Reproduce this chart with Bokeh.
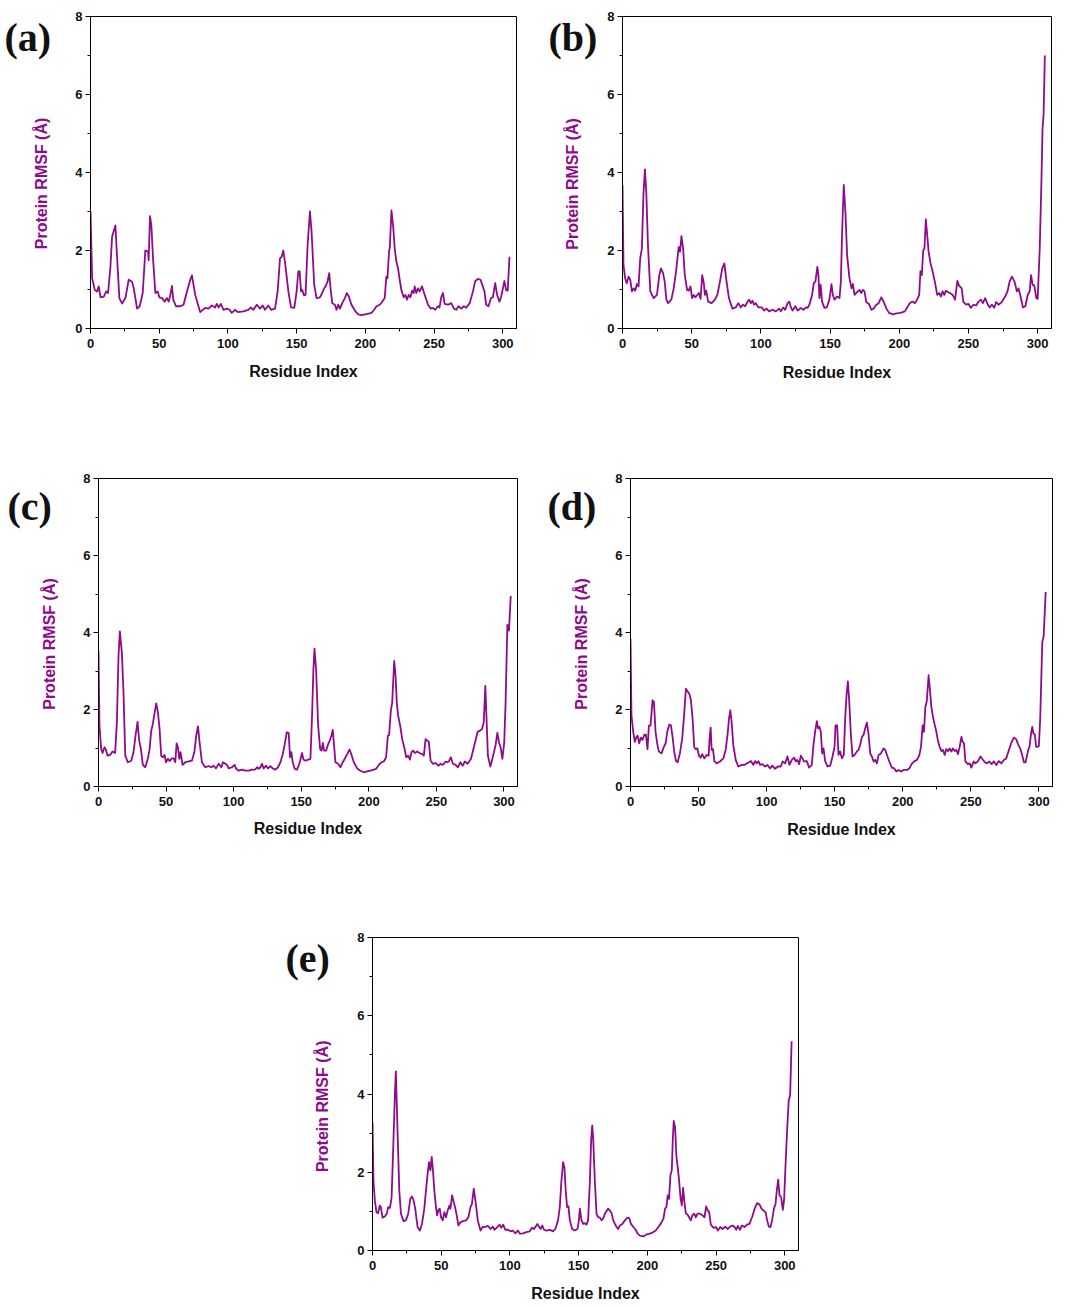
import math
from bokeh.plotting import figure
from bokeh.models import FixedTicker, Label, Range1d, Spacer
from bokeh.layouts import column, row
from bokeh.embed import file_html
from bokeh.resources import INLINE

# ---------------- data ----------------
x_ticks = [0, 50, 100, 150, 200, 250, 300]
x_minor = [25, 75, 125, 175, 225, 275]
y_ticks = [0, 2, 4, 6, 8]
y_minor = [1, 3, 5, 7]
panel_tags = ["(a)", "(b)", "(c)", "(d)", "(e)"]
x_title = "Residue Index"
y_title = "Protein RMSF (Å)"

res_a = [0, 1.2, 3.1, 4.8, 6.0, 7.3, 9.7, 11.4, 12.8, 14.5,
         15.7, 18.1, 19.4, 21.0, 23.0, 25.4, 27.8, 30.2, 31.5, 33.9,
         35.8, 38.0, 39.9, 41.9, 42.3, 43.3, 44.3, 45.5, 47.2, 48.9,
         50.1, 52.0, 54.0, 55.6, 56.9, 58.1, 59.3, 60.2, 62.2, 65.3,
         67.7, 70.2, 72.6, 73.8, 76.2, 79.8, 83.5, 85.9, 88.3, 90.7,
         91.9, 93.2, 94.8, 96.8, 99.2, 101.1, 102.8, 105.2, 107.2, 111.3,
         114.9, 116.6, 118.6, 121.0, 123.4, 125.3, 127.0, 129.4, 131.4, 134.3,
         136.2, 137.9, 139.1, 140.3, 141.5, 144.0, 145.9, 148.3, 150.0, 151.2,
         152.2, 153.2, 154.1, 155.3, 156.5, 158.0, 159.7, 160.9, 162.8, 164.5,
         167.0, 168.6, 170.1, 171.1, 172.5, 173.7, 174.7, 175.9, 177.8, 179.0,
         180.3, 181.5, 183.2, 185.1, 186.5, 188.0, 189.9, 192.4, 194.8, 197.2,
         200.8, 204.5, 206.4, 208.1, 210.5, 212.4, 214.1, 215.3, 216.1, 217.3,
         217.8, 219.0, 220.2, 221.4, 222.6, 223.8, 225.0, 226.2, 227.9, 229.1,
         230.3, 231.5, 232.8, 234.0, 235.2, 235.9, 237.1, 238.3, 239.5, 241.2,
         242.4, 243.6, 245.6, 247.5, 249.2, 250.9, 252.8, 254.0, 255.2, 256.5,
         257.7, 260.1, 262.5, 264.5, 266.2, 267.8, 269.8, 271.7, 273.4, 275.9,
         278.3, 280.0, 281.9, 283.8, 285.5, 286.7, 287.9, 289.6, 291.5, 292.8,
         294.5, 295.9, 297.6, 298.8, 301.2, 302.4, 303.6, 304.9]
rmsf_a = [3.0, 1.29, 0.99, 0.95, 1.08, 0.8, 0.82, 0.95, 0.91, 1.58,
          2.35, 2.64, 1.8, 0.78, 0.64, 0.78, 1.25, 1.2, 1.03, 0.51,
          0.57, 0.91, 2.0, 1.97, 1.75, 2.88, 2.64, 1.8, 0.91, 0.95,
          0.8, 0.78, 0.69, 0.78, 0.69, 0.86, 1.09, 0.74, 0.57, 0.57,
          0.61, 0.95, 1.25, 1.36, 0.86, 0.42, 0.53, 0.51, 0.59, 0.54,
          0.63, 0.54, 0.63, 0.48, 0.51, 0.48, 0.4, 0.48, 0.42, 0.44,
          0.48, 0.54, 0.48, 0.61, 0.51, 0.59, 0.48, 0.59, 0.48, 0.51,
          0.95, 1.8, 1.84, 2.0, 1.71, 0.95, 0.54, 0.53, 0.95, 1.46,
          1.47, 0.95, 0.99, 0.85, 0.86, 2.14, 3.0, 2.47, 1.12, 0.78,
          0.8, 0.91, 1.03, 1.08, 1.2, 1.42, 1.03, 0.65, 0.61, 0.48,
          0.61, 0.51, 0.65, 0.78, 0.91, 0.82, 0.61, 0.46, 0.36, 0.34,
          0.37, 0.4, 0.48, 0.57, 0.61, 0.69, 0.78, 1.33, 1.29, 2.0,
          2.07, 3.03, 2.64, 2.05, 1.71, 1.54, 1.25, 0.99, 0.8, 0.86,
          0.74, 0.86, 0.8, 0.97, 0.91, 1.08, 0.91, 1.03, 0.95, 1.08,
          0.95, 0.82, 0.61, 0.51, 0.53, 0.48, 0.57, 0.54, 0.8, 0.91,
          0.63, 0.61, 0.65, 0.51, 0.48, 0.57, 0.51, 0.57, 0.53, 0.65,
          0.95, 1.22, 1.27, 1.25, 1.08, 0.95, 0.61, 0.57, 0.78, 0.8,
          1.16, 0.86, 0.69, 0.8, 1.22, 0.99, 0.97, 1.84]

res_b = [0, 0.7, 1.9, 3.1, 4.4, 5.6, 6.8, 8.0, 9.2, 10.4,
         11.6, 12.8, 14.0, 15.2, 16.2, 17.2, 18.4, 20.1, 22.5, 24.9,
         26.6, 27.8, 29.3, 30.5, 31.7, 32.9, 35.3, 37.0, 38.7, 40.6,
         41.6, 42.6, 43.8, 45.0, 46.7, 47.9, 49.1, 50.3, 51.5, 52.7,
         54.0, 55.2, 56.4, 57.6, 58.8, 59.5, 60.5, 61.9, 64.4, 66.8,
         68.5, 70.2, 72.1, 73.6, 75.2, 76.9, 79.4, 81.8, 83.7, 85.4,
         87.1, 88.6, 90.2, 91.5, 92.7, 93.9, 95.1, 96.3, 98.2, 100.7,
         102.3, 104.0, 106.0, 108.4, 110.8, 113.2, 114.4, 116.1, 117.6, 119.3,
         120.5, 121.7, 122.9, 124.9, 126.6, 129.0, 130.7, 132.6, 133.8, 135.0,
         137.0, 138.2, 139.4, 140.8, 141.6, 142.3, 143.2, 144.2, 145.9, 147.6,
         149.5, 151.0, 152.0, 153.2, 154.9, 156.8, 157.8, 158.7, 159.9, 161.1,
         162.3, 164.0, 165.5, 166.5, 167.7, 168.9, 170.1, 171.3, 172.5, 173.7,
         174.9, 176.1, 178.1, 179.8, 181.5, 183.4, 185.1, 187.0, 188.7, 190.7,
         192.6, 195.5, 198.0, 200.9, 204.0, 205.7, 207.6, 209.5, 211.2, 212.9,
         214.4, 215.3, 216.3, 217.3, 218.2, 219.2, 220.2, 221.2, 222.6, 224.1,
         225.7, 227.4, 228.9, 230.1, 231.3, 232.5, 233.7, 235.4, 236.6, 238.6,
         240.3, 242.0, 243.2, 245.1, 246.3, 248.3, 250.0, 251.7, 253.6, 255.5,
         257.3, 259.0, 260.4, 262.1, 263.8, 265.3, 267.0, 268.6, 270.0, 271.7,
         274.1, 276.5, 278.2, 279.7, 281.4, 283.3, 285.0, 286.2, 287.4, 289.4,
         291.1, 292.8, 294.2, 295.2, 296.4, 297.6, 299.0, 300.0, 301.5, 302.7,
         303.5, 304.3, 305.2]
rmsf_b = [3.68, 1.63, 1.29, 1.16, 1.33, 1.25, 0.95, 1.03, 0.97, 1.14,
          1.08, 1.8, 2.05, 3.49, 4.08, 3.49, 2.14, 0.95, 0.78, 0.86,
          1.37, 1.54, 1.42, 1.2, 0.74, 0.65, 0.74, 1.03, 1.46, 2.09,
          1.97, 2.37, 2.05, 1.37, 0.99, 0.97, 1.08, 0.78, 0.86, 0.8,
          0.86, 0.91, 0.76, 1.37, 1.16, 0.86, 0.97, 0.69, 0.65, 0.74,
          0.86, 1.16, 1.54, 1.67, 1.2, 0.78, 0.51, 0.54, 0.65, 0.54,
          0.61, 0.57, 0.68, 0.74, 0.65, 0.71, 0.61, 0.65, 0.54, 0.54,
          0.46, 0.51, 0.44, 0.48, 0.44, 0.51, 0.44, 0.54, 0.48, 0.65,
          0.69, 0.54, 0.46, 0.57, 0.46, 0.53, 0.48, 0.54, 0.53, 0.61,
          0.86, 1.16, 1.2, 1.58, 1.37, 0.78, 1.12, 0.69, 0.53, 0.54,
          0.74, 1.14, 0.86, 0.74, 0.82, 0.78, 1.2, 2.47, 3.68, 2.98,
          1.88, 1.29, 1.03, 1.14, 0.86, 0.91, 0.95, 0.99, 0.91, 0.99,
          0.95, 0.68, 0.63, 0.48, 0.51, 0.61, 0.65, 0.8, 0.69, 0.51,
          0.4, 0.36, 0.39, 0.4, 0.44, 0.54, 0.65, 0.69, 0.65, 0.74,
          0.86, 1.47, 1.37, 2.0, 2.05, 2.8, 2.39, 1.97, 1.67, 1.46,
          1.2, 0.86, 0.91, 0.82, 0.95, 0.86, 0.97, 0.93, 0.91, 0.86,
          0.74, 1.22, 1.1, 1.03, 0.68, 0.61, 0.63, 0.53, 0.61, 0.59,
          0.69, 0.74, 0.65, 0.78, 0.63, 0.54, 0.61, 0.53, 0.68, 0.61,
          0.68, 0.82, 0.95, 1.2, 1.33, 1.2, 0.95, 1.03, 0.86, 0.54,
          0.57, 0.86, 0.95, 1.37, 1.12, 1.1, 0.78, 0.76, 2.05, 3.75,
          5.1, 5.5, 7.0]

res_c = [0, 0.7, 2.0, 3.0, 4.4, 5.4, 6.7, 8.6, 10.4, 12.3,
         13.6, 14.8, 15.8, 17.3, 18.5, 19.8, 21.7, 24.2, 25.9, 27.4,
         28.9, 30.1, 31.4, 32.8, 34.6, 36.5, 37.8, 39.0, 40.2, 41.2,
         42.7, 44.0, 45.2, 46.4, 47.7, 48.9, 49.9, 51.4, 52.6, 54.3,
         55.6, 56.8, 57.8, 58.8, 59.8, 60.7, 62.2, 64.2, 66.7, 69.1,
         70.9, 72.3, 73.6, 74.8, 76.5, 79.0, 81.5, 83.5, 85.2, 86.9,
         88.9, 90.9, 92.1, 93.8, 95.1, 96.3, 98.8, 100.7, 101.9, 103.7,
         106.2, 108.6, 111.1, 113.6, 116.0, 117.3, 118.5, 119.8, 121.0, 122.2,
         124.0, 125.4, 127.2, 128.9, 130.9, 132.8, 134.6, 136.3, 137.8, 139.3,
         140.7, 141.7, 142.7, 143.7, 145.2, 146.9, 148.6, 150.6, 151.6, 153.1,
         155.1, 156.8, 158.0, 159.0, 159.8, 161.0, 162.5, 164.0, 165.0, 166.0,
         166.9, 168.4, 169.9, 171.1, 172.3, 173.3, 174.3, 175.3, 177.3, 179.0,
         180.7, 182.2, 184.0, 185.7, 187.2, 188.9, 191.4, 193.8, 196.3, 198.8,
         201.2, 203.7, 205.4, 207.4, 209.4, 211.1, 212.8, 214.1, 215.0, 216.3,
         217.3, 218.0, 218.8, 219.8, 220.7, 221.7, 223.2, 224.7, 226.2, 227.7,
         229.1, 230.4, 231.6, 232.8, 234.1, 235.8, 237.5, 239.5, 240.7, 242.0,
         243.2, 244.4, 245.7, 247.4, 249.4, 251.4, 253.1, 254.8, 256.8, 258.0,
         259.3, 260.7, 262.2, 264.2, 265.9, 267.7, 269.4, 271.1, 273.1, 275.6,
         278.0, 280.5, 282.2, 283.7, 285.0, 286.2, 287.2, 288.1, 289.9, 291.4,
         292.6, 293.8, 295.1, 296.3, 297.5, 298.8, 300.2, 301.2, 302.5, 303.7,
         305.0]
rmsf_c = [3.52, 1.58, 0.97, 0.87, 1.02, 0.97, 0.8, 0.82, 0.91, 0.87,
          1.66, 3.39, 4.03, 3.47, 2.44, 0.8, 0.63, 0.67, 0.89, 1.32,
          1.68, 1.19, 0.97, 0.56, 0.5, 0.72, 0.97, 1.45, 1.62, 1.85,
          2.16, 1.92, 1.49, 0.8, 0.76, 0.82, 0.63, 0.72, 0.66, 0.73,
          0.73, 0.63, 1.12, 1.02, 0.72, 0.89, 0.56, 0.63, 0.65, 0.67,
          0.89, 1.32, 1.56, 1.15, 0.63, 0.5, 0.53, 0.5, 0.54, 0.47,
          0.59, 0.5, 0.63, 0.59, 0.56, 0.47, 0.5, 0.56, 0.46, 0.41,
          0.44, 0.41, 0.41, 0.44, 0.44, 0.5, 0.46, 0.5, 0.59, 0.47,
          0.54, 0.47, 0.53, 0.47, 0.44, 0.5, 0.63, 0.84, 1.1, 1.41,
          1.39, 0.76, 0.89, 0.63, 0.46, 0.44, 0.59, 0.87, 0.7, 0.67,
          0.7, 0.72, 1.84, 3.04, 3.58, 3.04, 1.58, 0.97, 0.93, 1.13,
          0.93, 0.93, 1.1, 1.19, 1.32, 1.47, 1.06, 0.63, 0.59, 0.5,
          0.63, 0.72, 0.84, 0.96, 0.82, 0.63, 0.47, 0.41, 0.37, 0.39,
          0.41, 0.44, 0.46, 0.56, 0.63, 0.65, 0.76, 1.32, 1.34, 1.97,
          2.18, 2.7, 3.26, 2.87, 2.18, 1.84, 1.58, 1.23, 1.02, 0.76,
          0.8, 0.7, 0.89, 0.93, 0.87, 0.91, 0.87, 0.84, 0.8, 1.23,
          1.19, 1.16, 0.67, 0.59, 0.61, 0.54, 0.59, 0.56, 0.65, 0.63,
          0.65, 0.76, 0.59, 0.56, 0.5, 0.63, 0.54, 0.65, 0.59, 0.72,
          1.06, 1.42, 1.45, 1.49, 1.66, 2.61, 1.66, 0.8, 0.52, 0.72,
          0.89, 1.08, 1.39, 1.15, 1.02, 0.72, 1.15, 2.18, 4.2, 4.05,
          4.95]

res_d = [0, 0.7, 2.0, 3.2, 4.4, 5.2, 6.4, 7.6, 8.8, 10.1,
         11.3, 12.5, 13.5, 14.7, 16.2, 17.2, 18.4, 19.6, 20.8, 22.8,
         24.5, 25.8, 27.0, 28.5, 29.7, 30.9, 32.1, 33.4, 34.6, 36.3,
         38.0, 39.2, 40.7, 41.9, 43.2, 44.4, 45.6, 46.8, 47.8, 49.1,
         50.3, 51.5, 52.7, 54.2, 55.9, 57.4, 58.1, 58.9, 59.6, 60.6,
         61.6, 63.3, 65.7, 68.2, 69.9, 71.4, 72.4, 73.3, 74.3, 75.5,
         77.3, 79.2, 81.7, 83.6, 85.4, 87.1, 88.5, 90.3, 91.5, 92.7,
         94.0, 95.2, 96.9, 98.8, 100.6, 102.5, 104.2, 106.2, 108.2, 110.4,
         111.8, 113.6, 115.3, 116.8, 118.5, 120.2, 121.4, 122.6, 123.9, 125.1,
         126.3, 127.5, 129.5, 131.2, 133.2, 134.4, 135.6, 136.9, 137.8, 138.8,
         139.8, 140.8, 141.8, 143.0, 144.7, 146.7, 148.4, 149.9, 150.6, 151.8,
         152.8, 154.0, 155.3, 156.7, 157.7, 158.7, 159.7, 160.7, 161.9, 163.1,
         164.6, 166.3, 167.5, 168.8, 170.0, 171.2, 172.4, 173.7, 174.9, 176.1,
         177.3, 178.6, 179.8, 181.0, 182.2, 184.0, 185.9, 187.1, 188.4, 190.1,
         192.0, 193.8, 195.2, 196.9, 198.9, 200.6, 203.1, 204.8, 206.8, 208.7,
         210.5, 212.2, 213.4, 214.6, 215.6, 216.6, 217.6, 219.0, 220.0, 221.0,
         222.2, 223.4, 224.7, 225.9, 227.1, 228.4, 229.6, 230.8, 232.0, 233.3,
         234.5, 235.7, 236.9, 238.2, 239.4, 240.6, 241.8, 243.1, 244.0, 245.0,
         246.0, 247.8, 249.2, 250.4, 252.1, 253.4, 255.3, 257.1, 258.3, 260.3,
         261.9, 263.7, 265.2, 267.0, 268.7, 270.6, 272.4, 274.3, 276.0, 278.0,
         279.9, 281.6, 283.3, 284.8, 286.5, 287.7, 289.0, 290.2, 292.2, 293.1,
         294.1, 295.1, 296.0, 297.0, 298.0, 299.0, 300.0, 301.0, 302.5, 303.5,
         305.0]
rmsf_d = [3.84, 1.85, 1.42, 1.16, 1.29, 1.32, 1.12, 1.27, 1.21, 1.34,
          1.35, 0.97, 1.58, 1.58, 2.24, 2.2, 1.42, 1.12, 0.91, 0.86,
          1.03, 1.12, 1.42, 1.61, 1.59, 1.29, 0.91, 0.66, 0.63, 0.86,
          1.25, 1.77, 2.54, 2.47, 2.41, 2.24, 1.77, 1.03, 0.97, 0.99,
          0.8, 0.75, 0.84, 0.73, 0.82, 0.8, 1.25, 1.53, 0.95, 0.97,
          0.66, 0.6, 0.65, 0.73, 0.95, 1.38, 1.77, 1.98, 1.68, 1.08,
          0.69, 0.52, 0.56, 0.56, 0.6, 0.63, 0.66, 0.56, 0.66, 0.6,
          0.66, 0.56, 0.58, 0.52, 0.56, 0.47, 0.54, 0.46, 0.52, 0.52,
          0.65, 0.6, 0.78, 0.56, 0.69, 0.75, 0.65, 0.69, 0.58, 0.8,
          0.73, 0.65, 0.66, 0.49, 0.56, 1.08, 1.42, 1.7, 1.51, 1.55,
          1.42, 0.86, 0.99, 0.66, 0.52, 0.54, 0.78, 1.03, 1.59, 1.59,
          0.82, 0.91, 0.73, 0.82, 1.77, 2.37, 2.73, 2.2, 1.34, 0.78,
          0.82, 0.91, 0.95, 1.09, 1.29, 1.34, 1.51, 1.66, 1.34, 0.86,
          0.78, 0.65, 0.69, 0.6, 0.82, 0.86, 0.99, 0.95, 0.82, 0.65,
          0.49, 0.47, 0.39, 0.43, 0.39, 0.43, 0.43, 0.47, 0.6, 0.66,
          0.69, 0.82, 1.03, 1.59, 1.42, 2.07, 2.2, 2.89, 2.5, 2.07,
          1.81, 1.61, 1.42, 1.18, 1.03, 0.92, 0.95, 0.82, 0.97, 0.92,
          0.99, 0.91, 0.99, 0.92, 0.95, 0.84, 1.03, 1.29, 1.16, 1.12,
          0.65, 0.58, 0.6, 0.49, 0.65, 0.6, 0.66, 0.78, 0.72, 0.63,
          0.6, 0.65, 0.58, 0.65, 0.56, 0.66, 0.6, 0.69, 0.73, 0.95,
          1.15, 1.27, 1.23, 1.09, 0.97, 0.82, 0.63, 0.63, 0.95, 1.03,
          1.34, 1.55, 1.38, 1.35, 1.03, 1.03, 1.05, 1.8, 3.75, 3.9,
          5.05]

res_e = [0, 0.7, 1.7, 2.9, 4.1, 5.3, 6.1, 7.3, 9.0, 10.5,
         11.4, 12.7, 13.9, 15.1, 16.3, 17.0, 18.2, 19.5, 20.7, 22.6,
         24.3, 26.0, 27.5, 28.7, 29.9, 31.1, 32.8, 34.5, 36.0, 37.7,
         38.9, 40.1, 41.1, 42.1, 43.1, 44.0, 45.0, 46.2, 47.0, 47.9,
         48.9, 49.9, 51.1, 52.3, 53.5, 54.7, 56.0, 56.7, 57.9, 59.1,
         60.1, 61.3, 62.5, 64.0, 65.7, 68.1, 69.8, 71.3, 72.3, 73.7,
         75.2, 76.6, 78.6, 80.3, 82.0, 83.9, 85.9, 87.6, 88.8, 90.8,
         92.5, 93.7, 95.1, 96.6, 98.5, 100.5, 102.2, 103.9, 105.8, 107.3,
         109.5, 111.9, 114.4, 116.1, 117.5, 118.7, 120.0, 121.2, 122.4, 123.6,
         124.8, 126.5, 129.0, 131.4, 133.1, 135.0, 136.3, 137.5, 138.7, 139.7,
         140.6, 141.6, 142.6, 143.6, 145.3, 147.2, 149.2, 150.2, 150.9, 152.1,
         153.3, 154.5, 155.7, 156.9, 158.2, 159.1, 159.9, 160.6, 161.8, 163.0,
         164.2, 165.5, 166.7, 167.9, 169.1, 170.3, 171.5, 172.7, 174.0, 175.2,
         176.4, 177.6, 178.8, 180.0, 181.8, 183.7, 185.6, 186.9, 188.1, 189.8,
         191.5, 192.9, 194.6, 197.1, 199.5, 201.9, 204.4, 206.1, 208.0, 210.0,
         211.7, 212.9, 213.9, 214.8, 215.8, 216.8, 217.8, 218.5, 219.2, 220.2,
         221.2, 222.1, 223.1, 224.1, 225.1, 226.0, 227.0, 228.0, 229.2, 230.4,
         231.6, 232.8, 234.1, 235.3, 236.5, 238.4, 240.1, 241.6, 242.8, 244.0,
         245.0, 246.2, 248.2, 249.9, 251.3, 253.0, 254.7, 256.7, 258.4, 260.3,
         262.0, 263.5, 264.7, 265.9, 267.4, 268.9, 270.6, 272.6, 274.3, 276.2,
         278.1, 279.9, 281.6, 283.1, 284.8, 286.0, 287.2, 288.4, 289.6, 290.8,
         292.1, 293.3, 294.2, 295.2, 296.2, 297.4, 298.6, 299.5, 300.5, 301.7,
         302.9, 303.9, 305.0]
rmsf_e = [3.28, 1.79, 1.28, 0.98, 0.95, 1.15, 1.11, 0.84, 0.87, 0.95,
          1.11, 1.09, 1.36, 2.64, 4.0, 4.58, 3.07, 1.53, 0.94, 0.75,
          0.77, 0.94, 1.32, 1.38, 1.28, 1.07, 0.6, 0.51, 0.68, 1.07,
          1.53, 1.96, 2.26, 2.05, 2.39, 2.05, 1.53, 1.11, 0.9, 1.02,
          1.07, 0.85, 0.77, 0.98, 0.85, 1.02, 1.15, 1.07, 1.41, 1.24,
          1.11, 0.9, 0.64, 0.72, 0.75, 0.77, 0.85, 1.11, 1.18, 1.58,
          1.19, 0.77, 0.51, 0.61, 0.6, 0.63, 0.55, 0.61, 0.53, 0.6,
          0.66, 0.58, 0.66, 0.53, 0.53, 0.49, 0.51, 0.44, 0.51, 0.43,
          0.44, 0.47, 0.49, 0.58, 0.55, 0.61, 0.68, 0.61, 0.55, 0.64,
          0.53, 0.51, 0.53, 0.49, 0.55, 0.77, 1.11, 1.79, 2.26, 2.11,
          1.53, 1.11, 1.13, 0.77, 0.55, 0.51, 0.55, 0.77, 1.07, 0.77,
          0.68, 0.7, 0.66, 0.77, 1.79, 2.81, 3.2, 2.86, 1.79, 0.94,
          0.85, 0.84, 0.77, 0.82, 0.94, 1.01, 1.07, 1.02, 0.95, 0.77,
          0.68, 0.6, 0.55, 0.64, 0.68, 0.77, 0.84, 0.82, 0.68, 0.6,
          0.53, 0.43, 0.38, 0.36, 0.41, 0.43, 0.47, 0.51, 0.6, 0.7,
          0.81, 1.07, 1.11, 1.41, 1.32, 1.92, 2.05, 2.81, 3.31, 3.15,
          2.39, 2.13, 1.79, 1.36, 1.15, 1.6, 1.24, 0.95, 0.92, 0.85,
          0.77, 0.9, 0.94, 0.85, 0.94, 0.94, 0.9, 0.85, 1.13, 1.02,
          0.98, 0.66, 0.58, 0.6, 0.51, 0.6, 0.55, 0.61, 0.55, 0.61,
          0.64, 0.6, 0.53, 0.63, 0.53, 0.64, 0.6, 0.66, 0.68, 0.85,
          1.07, 1.21, 1.18, 1.07, 1.01, 0.98, 0.77, 0.61, 0.6, 0.77,
          1.07, 1.19, 1.53, 1.81, 1.41, 1.36, 1.04, 1.28, 2.13, 3.07,
          3.84, 3.96, 5.35]

# ---------------- styling ----------------
PURPLE = "#900A8C"
SANS = "Liberation Sans"
SERIF = "Liberation Serif"
STRIP_W = 62


def make_strip(tag, height, mbt, mbb, tag_x, tag_y, ytitle_x, ytitle_y):
    """Left strip carrying the panel letter and the y-axis title.
    Its frame is given the same top/bottom borders as the panel next to it,
    so label y values are pixels above the panel's frame bottom."""
    fh = height - mbt - mbb
    s = figure(width=STRIP_W, height=height, output_backend="svg", toolbar_location=None,
               x_range=Range1d(0, STRIP_W), y_range=Range1d(0, fh),
               x_axis_type=None, y_axis_type=None,
               min_border_left=0, min_border_right=0,
               min_border_top=mbt, min_border_bottom=mbb)
    s.xgrid.visible = False
    s.ygrid.visible = False
    s.outline_line_color = None
    s.background_fill_color = "white"
    s.border_fill_color = "white"
    s.add_layout(Label(x=tag_x, y=tag_y, text=tag, text_font=SERIF, text_font_size="40px",
                       text_font_style="bold", text_color="#111111",
                       text_align="left", text_baseline="middle"))
    s.add_layout(Label(x=ytitle_x, y=ytitle_y, text=y_title, angle=math.pi / 2,
                       text_font=SANS, text_font_size="16px", text_font_style="bold",
                       text_color=PURPLE, text_align="center", text_baseline="middle"))
    return s


def make_panel(xs, ys, width, height, mbl, mbr, mbt, mbb, xlab_standoff):
    n = min(len(xs), len(ys))
    p = figure(width=width, height=height, output_backend="svg", toolbar_location=None,
               x_range=Range1d(0, 310), y_range=Range1d(0, 8),
               min_border_left=mbl, min_border_right=mbr,
               min_border_top=mbt, min_border_bottom=mbb)
    p.line(xs[:n], ys[:n], line_color=PURPLE, line_width=1.8, line_join="round")

    p.xgrid.visible = False
    p.ygrid.visible = False
    p.outline_line_color = "black"
    p.outline_line_width = 1
    p.background_fill_color = "white"
    p.border_fill_color = "white"

    p.xaxis.ticker = FixedTicker(ticks=x_ticks, minor_ticks=x_minor)
    p.yaxis.ticker = FixedTicker(ticks=y_ticks, minor_ticks=y_minor)
    for ax in (p.xaxis[0], p.yaxis[0]):
        ax.axis_line_color = "black"
        ax.axis_line_width = 1
        ax.major_tick_line_color = "black"
        ax.major_tick_out = 5
        ax.major_tick_in = 0
        ax.minor_tick_line_color = "black"
        ax.minor_tick_out = 3
        ax.minor_tick_in = 0
        ax.major_label_text_font = SANS
        ax.major_label_text_font_size = "13px"
        ax.major_label_text_font_style = "bold"
        ax.major_label_text_color = "#111111"
    p.xaxis.major_label_standoff = 5
    p.yaxis.major_label_standoff = 3

    p.xaxis.axis_label = x_title
    p.xaxis.axis_label_text_font = SANS
    p.xaxis.axis_label_text_font_size = "16px"
    p.xaxis.axis_label_text_font_style = "bold"
    p.xaxis.axis_label_text_color = "#111111"
    p.xaxis.axis_label_standoff = xlab_standoff
    return p


# row 1 (page y 0..464): frames (a) y 15..328, (b) y 16..331
sa = make_strip(panel_tags[0], 464, 15, 136, 4, 292, 40.6, 145.5)
pa = make_panel(res_a, rmsf_a, 478, 464, 28, 24, 15, 136, 12)
sb = make_strip(panel_tags[1], 464, 16, 133, 8, 294, 31.5, 146)
pb = make_panel(res_b, rmsf_b, 466, 464, 20, 17, 16, 133, 13)
# row 2 (page y 464..918): frames (c) y 478..786, (d) y 478..788
sc = make_strip(panel_tags[2], 454, 14, 132, 7, 280, 49, 142.5)
pc = make_panel(res_c, rmsf_c, 478, 454, 36, 23, 14, 132, 11)
sd = make_strip(panel_tags[3], 454, 14, 130, 7, 282, 41, 143.5)
pd = make_panel(res_d, rmsf_d, 466, 454, 28, 16, 14, 130, 12)
# row 3 (page y 918..1306): frame (e) y 937..1250
se = make_strip(panel_tags[4], 388, 19, 56, 5, 292, 41.7, 144.2)
pe = make_panel(res_e, rmsf_e, 470, 388, 30, 14, 19, 56, 12)

layout = column(
    row(sa, pa, sb, pb),
    row(sc, pc, sd, pd),
    row(Spacer(width=280, height=388), se, pe),
)

with open("out.html", "w") as f:
    f.write(file_html(layout, INLINE))
